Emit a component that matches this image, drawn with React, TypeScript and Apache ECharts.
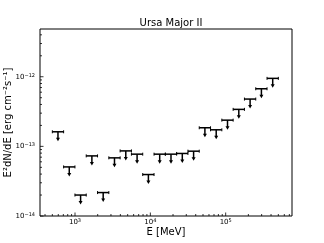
import React, { useEffect, useRef } from "react";
import * as echarts from "echarts";

const TITLE = "Ursa Major II";
const X_NAME = "E [MeV]";
const Y_NAME = "E²dN/dE [erg cm⁻²s⁻¹]";

// energy bin centres and edges [MeV]
const energies = [594, 839, 1186, 1675, 2366, 3342, 4721, 6669, 9420, 13307, 18796, 26551, 37505, 52977, 74833, 105705, 149314, 210914, 297927, 420840];
const binLo = [500, 706, 998, 1409, 1991, 2812, 3972, 5610, 7924, 11194, 15811, 22334, 31548, 44562, 62946, 88914, 125594, 177407, 250594, 353977];
const binHi = [706, 998, 1409, 1991, 2812, 3972, 5610, 7924, 11194, 15811, 22334, 31548, 44562, 62946, 88914, 125594, 177407, 250594, 353977, 500000];
// upper limits E^2 dN/dE [erg cm^-2 s^-1]
const upperLimits = [1.62e-13, 5.07e-14, 2.0e-14, 7.3e-14, 2.17e-14, 6.84e-14, 8.61e-14, 7.73e-14, 3.94e-14, 7.73e-14, 7.73e-14, 7.91e-14, 8.53e-14, 1.85e-13, 1.73e-13, 2.38e-13, 3.4e-13, 4.78e-13, 6.72e-13, 9.48e-13];

const X_MIN = 343;
const X_MAX = 759000;
const Y_MIN = 1e-14;
const Y_MAX = 4.85e-12;

const xMajorTicks = [1e3, 1e4, 1e5];
const xMinorTicks = [400, 500, 600, 700, 800, 900, 2000, 3000, 4000, 5000, 6000, 7000, 8000, 9000, 20000, 30000, 40000, 50000, 60000, 70000, 80000, 90000, 200000, 300000, 400000, 500000, 600000, 700000];
const yMajorTicks = [1e-14, 1e-13, 1e-12];
const yMinorTicks = [2e-14, 3e-14, 4e-14, 5e-14, 6e-14, 7e-14, 8e-14, 9e-14, 2e-13, 3e-13, 4e-13, 5e-13, 6e-13, 7e-13, 8e-13, 9e-13, 2e-12, 3e-12, 4e-12];

const FONT = "DejaVu Sans";

function powLabel(v: number) {
  const l = Math.log10(v);
  const r = Math.round(l);
  if (Math.abs(l - r) > 1e-6) return "";
  const e = r < 0 ? "−" + -r : String(r);
  return "{b|10}{s|" + e + "}";
}

const rich = {
  b: { fontSize: 7, fontFamily: FONT, color: "#000", lineHeight: 9 },
  s: { fontSize: 5, fontFamily: FONT, color: "#000", lineHeight: 9, verticalAlign: "top" as const },
};

export default function App() {
  const ref = useRef<HTMLDivElement>(null);
  useEffect(() => {
    if (!ref.current) return;
    const chart = echarts.init(ref.current, null, { renderer: "svg" });
    const limitData = energies.map((e, i) => [e, upperLimits[i], binLo[i], binHi[i]]);
    const tickData = [
      ...xMajorTicks.map((v) => [v, 0, 3.5]),
      ...xMinorTicks.map((v) => [v, 0, 2]),
      ...yMajorTicks.map((v) => [v, 1, 3.5]),
      ...yMinorTicks.map((v) => [v, 1, 2]),
    ];
    chart.setOption({
      animation: false,
      title: {
        text: TITLE,
        left: 166,
        top: 12,
        textAlign: "center",
        textStyle: { fontFamily: FONT, fontSize: 10, fontWeight: "normal", color: "#000" },
      },
      graphic: [
        {
          type: "text",
          x: 166,
          y: 231.5,
          style: { text: X_NAME, font: `10px "${FONT}"`, fill: "#000", textAlign: "center", textVerticalAlign: "middle" },
        },
        {
          type: "text",
          x: 7,
          y: 122.5,
          rotation: Math.PI / 2,
          style: { text: Y_NAME, font: `10px "${FONT}"`, fill: "#000", textAlign: "center", textVerticalAlign: "middle" },
        },
      ],
      grid: {
        left: 40,
        top: 29,
        right: 32,
        bottom: 27,
        show: true,
        borderColor: "#000",
        borderWidth: 1,
        containLabel: false,
        outerBoundsMode: "none",
      },
      xAxis: {
        type: "log",
        logBase: 10,
        min: X_MIN,
        max: X_MAX,
        axisLine: { show: false },
        axisTick: { show: false },
        splitLine: { show: false },
        axisLabel: { margin: 1, formatter: powLabel, rich },
      },
      yAxis: {
        type: "log",
        logBase: 10,
        min: Y_MIN,
        max: Y_MAX,
        axisLine: { show: false },
        axisTick: { show: false },
        splitLine: { show: false },
        axisLabel: { margin: 5, formatter: powLabel, rich },
      },
      series: [
        {
          type: "custom",
          data: tickData,
          silent: true,
          renderItem: (params: any, api: any) => {
            const v = api.value(0);
            const axis = api.value(1);
            const len = api.value(2);
            if (axis === 0) {
              const p = api.coord([v, Y_MIN]);
              return {
                type: "line",
                shape: { x1: p[0], y1: p[1], x2: p[0], y2: p[1] - len },
                style: { stroke: "#000", lineWidth: 0.8 },
              };
            }
            const p = api.coord([X_MIN, v]);
            return {
              type: "line",
              shape: { x1: p[0], y1: p[1], x2: p[0] + len, y2: p[1] },
              style: { stroke: "#000", lineWidth: 0.8 },
            };
          },
        },
        {
          type: "custom",
          data: limitData,
          renderItem: (params: any, api: any) => {
            const x = api.value(0);
            const y = api.value(1);
            const p = api.coord([x, y]);
            const pl = api.coord([api.value(2), y]);
            const ph = api.coord([api.value(3), y]);
            const stroke = { stroke: "#000", lineWidth: 1.5 };
            return {
              type: "group",
              children: [
                { type: "line", shape: { x1: pl[0], y1: p[1], x2: ph[0], y2: p[1] }, style: stroke },
                { type: "line", shape: { x1: pl[0], y1: p[1] - 1.5, x2: pl[0], y2: p[1] + 1.5 }, style: { stroke: "#000", lineWidth: 1 } },
                { type: "line", shape: { x1: ph[0], y1: p[1] - 1.5, x2: ph[0], y2: p[1] + 1.5 }, style: { stroke: "#000", lineWidth: 1 } },
                { type: "line", shape: { x1: p[0], y1: p[1], x2: p[0], y2: p[1] + 7 }, style: stroke },
                {
                  type: "polygon",
                  shape: { points: [[p[0] - 2, p[1] + 6], [p[0] + 2, p[1] + 6], [p[0], p[1] + 9.5]] },
                  style: { fill: "#000" },
                },
              ],
            };
          },
        },
      ],
    });
    return () => chart.dispose();
  }, []);
  return <div ref={ref} style={{ position: "fixed", left: 0, top: 0, width: 324, height: 243 }} />;
}
